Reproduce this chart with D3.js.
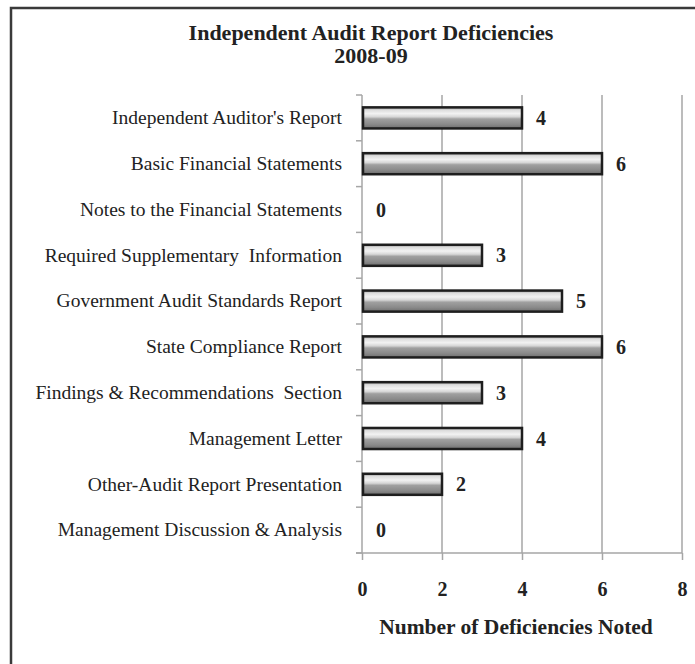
<!DOCTYPE html>
<html><head><meta charset="utf-8">
<script src="https://cdn.jsdelivr.net/npm/d3@7"></script>
<style>body{margin:0;background:#fff}svg{display:block}</style>
</head><body>
<script>
const categories = ["Independent Auditor's Report","Basic Financial Statements","Notes to the Financial Statements","Required Supplementary  Information","Government Audit Standards Report","State Compliance Report","Findings & Recommendations  Section","Management Letter","Other-Audit Report Presentation","Management Discussion & Analysis"];
const values = [4,6,0,3,5,6,3,4,2,0];
const xTicks = [0,2,4,6,8];
const titleLines = ["Independent Audit Report Deficiencies","2008-09"];
const xTitle = "Number of Deficiencies Noted";

const W=695,H=664;
const svg=d3.select("body").append("svg").attr("width",W).attr("height",H);
const serif="'Liberation Serif','Times New Roman',serif";
svg.append("rect").attr("x",11).attr("y",8).attr("width",800).attr("height",800).attr("fill","none").attr("stroke","#3a3a3a").attr("stroke-width",2.5);

const defs=svg.append("defs");
const g=defs.append("linearGradient").attr("id","bg").attr("x1",0).attr("y1",0).attr("x2",0).attr("y2",1);
[[0,"#9a9a9a"],[0.12,"#dcdcdc"],[0.3,"#f2f2f2"],[0.45,"#d6d6d6"],[0.55,"#a0a0a0"],[0.8,"#8a8a8a"],[1,"#6e6e6e"]].forEach(s=>g.append("stop").attr("offset",s[0]).attr("stop-color",s[1]));

const x=d3.scaleLinear().domain([0,8]).range([362,682]);
const y=d3.scaleBand().domain(categories).range([95,553]).paddingInner(0.54).paddingOuter(0.27);
const step=y.step();

// title
svg.append("g").selectAll("text").data(titleLines).join("text")
 .attr("x",371).attr("y",(d,i)=>40+i*23).attr("text-anchor","middle")
 .attr("font-family",serif).attr("font-weight","bold").attr("font-size",22).attr("fill","#222").text(d=>d);

// gridlines
svg.append("g").selectAll("line").data(xTicks.slice(1)).join("line")
 .attr("x1",d=>x(d)).attr("x2",d=>x(d)).attr("y1",95).attr("y2",553).attr("stroke","#a6a6a6").attr("stroke-width",1.5);

// x axis
const xa=svg.append("g").attr("transform","translate(0,553)").call(d3.axisBottom(x).tickValues(xTicks).tickSize(7).tickPadding(22));
xa.select(".domain").attr("d","M356,0H682").attr("stroke","#a6a6a6").attr("stroke-width",1.5);
xa.selectAll(".tick line").attr("stroke","#a6a6a6").attr("stroke-width",1.5);
xa.selectAll(".tick text").attr("font-family",serif).attr("font-weight","bold").attr("font-size",20).attr("fill","#222");

// y axis
const ya=svg.append("g").attr("transform","translate(362,0)").call(d3.axisLeft(y).tickSize(0).tickPadding(20));
ya.select(".domain").attr("d","M0,95V553").attr("stroke","#a6a6a6").attr("stroke-width",1.5);
ya.selectAll(".tick text").attr("font-family",serif).attr("font-size",19.5).attr("fill","#222").style("white-space","pre");
// band boundary ticks
const bounds=d3.range(categories.length+1).map(i=>95+i*step);
svg.append("g").selectAll("line").data(bounds).join("line")
 .attr("x1",356).attr("x2",362).attr("y1",d=>d).attr("y2",d=>d).attr("stroke","#a6a6a6").attr("stroke-width",1.5);

// bars
const data=categories.map((c,i)=>({c,v:values[i]}));
svg.append("g").selectAll("rect").data(data.filter(d=>d.v>0)).join("rect")
 .attr("x",x(0)+1).attr("y",d=>y(d.c)).attr("width",d=>x(d.v)-x(0)-1).attr("height",y.bandwidth())
 .attr("fill","url(#bg)").attr("stroke","#1e1e1e").attr("stroke-width",2.5);

// value labels
svg.append("g").selectAll("text").data(data).join("text")
 .attr("x",d=>x(d.v)+14).attr("y",d=>y(d.c)+y.bandwidth()/2).attr("dy","0.35em")
 .attr("font-family",serif).attr("font-weight","bold").attr("font-size",20).attr("fill","#222").text(d=>d.v);

svg.append("text").attr("x",516).attr("y",634).attr("text-anchor","middle")
 .attr("font-family",serif).attr("font-weight","bold").attr("font-size",21.5).attr("fill","#222").text(xTitle);
</script>
</body></html>
